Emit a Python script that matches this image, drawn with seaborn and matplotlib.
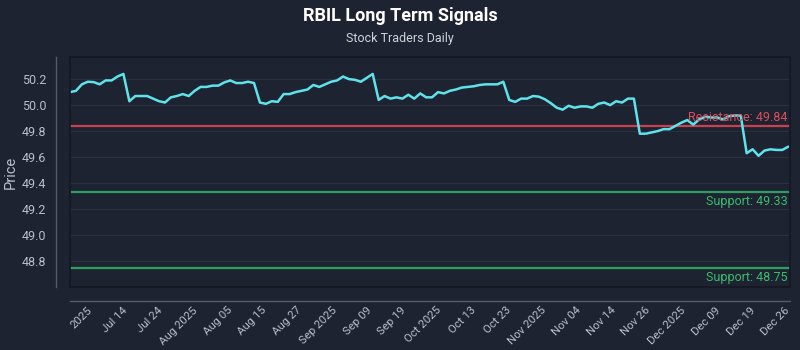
import numpy as np
import pandas as pd
import matplotlib
matplotlib.use("Agg")
import matplotlib.pyplot as plt
from matplotlib.patches import Rectangle
import seaborn as sns

prices = [
    50.10, 50.11, 50.16, 50.18, 50.177, 50.16, 50.19, 50.19, 50.22, 50.24,
    50.03, 50.07, 50.07, 50.07, 50.05, 50.03, 50.02, 50.06, 50.07, 50.085,
    50.07, 50.11, 50.14, 50.14, 50.15, 50.15, 50.175, 50.19, 50.17, 50.17,
    50.18, 50.17, 50.02, 50.01, 50.03, 50.025, 50.085, 50.085, 50.10, 50.11,
    50.12, 50.155, 50.14, 50.16, 50.18, 50.19, 50.22, 50.20, 50.195, 50.18,
    50.21, 50.24, 50.04, 50.07, 50.05, 50.06,
    50.05, 50.08, 50.05, 50.09, 50.06, 50.06, 50.10, 50.09, 50.11, 50.12,
    50.135, 50.14, 50.145, 50.155, 50.16, 50.16, 50.16, 50.18, 50.04, 50.025,
    50.05, 50.05, 50.07, 50.065, 50.045, 50.015, 49.98, 49.965, 49.995, 49.98,
    49.99, 49.99, 49.98, 50.01, 50.02, 50.00, 50.03, 50.02, 50.05, 50.05,
    49.78, 49.78, 49.79, 49.80, 49.815, 49.815, 49.84, 49.865, 49.885, 49.85,
    49.89, 49.91, 49.905, 49.905, 49.89, 49.915, 49.92, 49.92, 49.63, 49.66,
    49.61, 49.65, 49.66, 49.655, 49.655, 49.68,
]
tick_labels = ["2025", "Jul 14", "Jul 24", "Aug 2025", "Aug 05", "Aug 15", "Aug 27",
               "Sep 2025", "Sep 09", "Sep 19", "Oct 2025", "Oct 13", "Oct 23",
               "Nov 2025", "Nov 04", "Nov 14", "Nov 26", "Dec 2025", "Dec 09",
               "Dec 19", "Dec 26"]
resistance_levels = [49.84]
support_levels = [49.33, 48.75]

BG = "#1e2332"
TXT = "#b9bec9"

sns.set_theme(style="dark")
plt.rcParams["font.family"] = ["Roboto", "DejaVu Sans"]

df = pd.DataFrame({"idx": np.arange(len(prices)), "price": prices})

fig = plt.figure(figsize=(8, 3.5), dpi=100, facecolor=BG)
ax = fig.add_axes([0.0875, 0.18, 0.9, 0.657])
ax.set_facecolor(BG)

sns.lineplot(data=df, x="idx", y="price", ax=ax, color="#5fe3ea", linewidth=1.8, zorder=4)

for side in ["top", "right"]:
    ax.spines[side].set_visible(False)
for side in ["left", "bottom"]:
    ax.spines[side].set_visible(True)
    ax.spines[side].set_color("#555b6a")
    ax.spines[side].set_linewidth(1.0)
    ax.spines[side].set_position(("outward", 10))

n = len(prices)
ax.set_xlim(0, n - 1 + 0.3)
ax.set_ylim(48.6, 50.37)

for r in resistance_levels:
    ax.axhline(r, color="#c8414f", linewidth=1.6, zorder=3)
    ax.text(0.997, r + 0.012, f"Resistance: {r:.2f}", transform=ax.get_yaxis_transform(),
            ha="right", va="bottom", color="#d9505c", fontsize=9, zorder=5)
for s in support_levels:
    ax.axhline(s, color="#2f9e5c", linewidth=1.6, zorder=3)
    ax.text(0.997, s - 0.025, f"Support: {s:.2f}", transform=ax.get_yaxis_transform(),
            ha="right", va="top", color="#3cbc6c", fontsize=9, zorder=5)

ticks = np.linspace(2.9, n - 1.6, len(tick_labels))
ax.set_xticks(ticks)
ax.set_xticklabels(tick_labels, rotation=45, ha="right", rotation_mode="anchor")
ax.set_yticks([48.8, 49.0, 49.2, 49.4, 49.6, 49.8, 50.0, 50.2])
ax.set_yticklabels(["48.8", "49.0", "49.2", "49.4", "49.6", "49.8", "50.0", "50.2"])
ax.tick_params(axis="y", colors=TXT, labelsize=9, length=0, pad=7)
ax.tick_params(axis="x", colors=TXT, labelsize=8.2, length=0, pad=3)

ax.grid(axis="y", color="#2a3040", linewidth=0.8)
ax.grid(axis="x", visible=False)

ax.set_xlabel("")
ax.set_ylabel("Price", color=TXT, fontsize=10.5)
ax.yaxis.set_label_coords(-0.073, 0.5)

ax.add_patch(Rectangle((0, 0), 1, 1, transform=ax.transAxes, fill=False,
                       edgecolor="#131722", linewidth=1.2, zorder=6, clip_on=False))

fig.text(0.5, 0.955, "RBIL Long Term Signals", ha="center", va="center",
         color="white", fontsize=13, fontweight="bold")
fig.text(0.5, 0.89, "Stock Traders Daily", ha="center", va="center",
         color="#d0d3da", fontsize=9)

fig.savefig("out.png", dpi=100, facecolor=BG)
